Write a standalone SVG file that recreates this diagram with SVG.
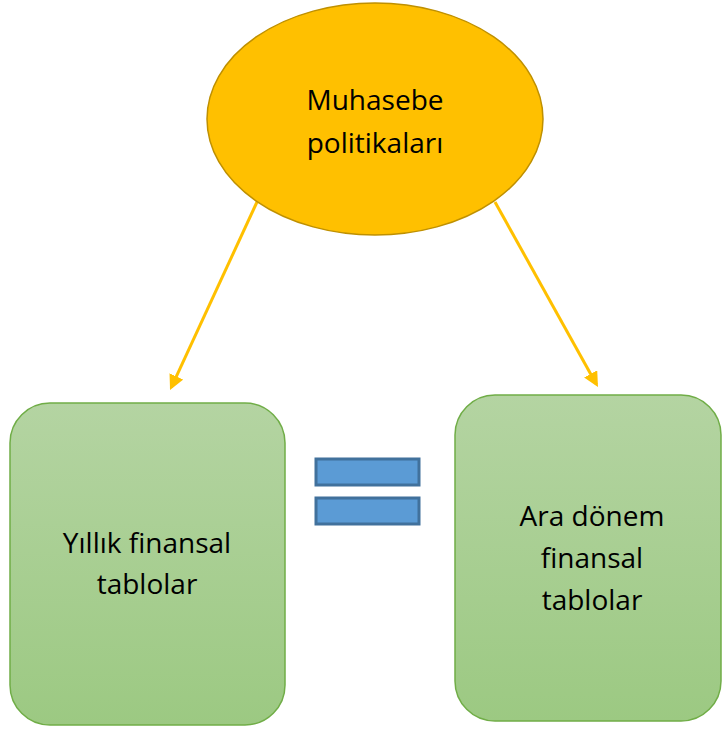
<svg xmlns="http://www.w3.org/2000/svg" width="722" height="730" viewBox="0 0 722 730">
<style>
.t{font-family:"Open Sans","Noto Sans",sans-serif;font-size:28px;fill:#000;text-anchor:middle;font-variant-ligatures:none}
.box{fill:url(#g);stroke:#70ad47;stroke-width:1.5}
.bar{fill:#5b9bd5;stroke:#41719c;stroke-width:3}
.arr{stroke:#ffc000;stroke-width:3;fill:none;marker-end:url(#ah)}
</style>
<defs>
<linearGradient id="g" x1="0" y1="0" x2="0" y2="1">
<stop offset="0" stop-color="#b4d4a2"/>
<stop offset="1" stop-color="#9cc982"/>
</linearGradient>
<marker id="ah" markerWidth="5" markerHeight="5" refX="4" refY="2.5" orient="auto" markerUnits="strokeWidth">
<path d="M0,0 L5,2.5 L0,5 Z" fill="#ffc000"/>
</marker>
</defs>
<g id="connectors">
<line class="arr" x1="257" y1="202" x2="171.3" y2="387.3"/>
<line class="arr" x1="495" y1="202" x2="596.5" y2="384.4"/>
</g>
<g id="n-muhasebe">
<ellipse cx="375" cy="119" rx="168" ry="116" fill="#ffc000" stroke="#bf9000" stroke-width="1.5"/>
<text class="t" x="375" y="110">Muhasebe</text>
<text class="t" x="375" y="153">politikaları</text>
</g>
<g id="n-yillik">
<rect class="box" x="10" y="403" width="275" height="322" rx="40"/>
<text class="t" x="147" y="553">Yıllık finansal</text>
<text class="t" x="147" y="594">tablolar</text>
</g>
<g id="n-esit">
<rect class="bar" x="316" y="459" width="103" height="26"/>
<rect class="bar" x="316" y="498" width="103" height="26"/>
</g>
<g id="n-ara">
<rect class="box" x="455" y="395" width="266" height="326" rx="40"/>
<text class="t" x="592" y="526">Ara dönem</text>
<text class="t" x="592" y="568">finansal</text>
<text class="t" x="592" y="610">tablolar</text>
</g>
</svg>
